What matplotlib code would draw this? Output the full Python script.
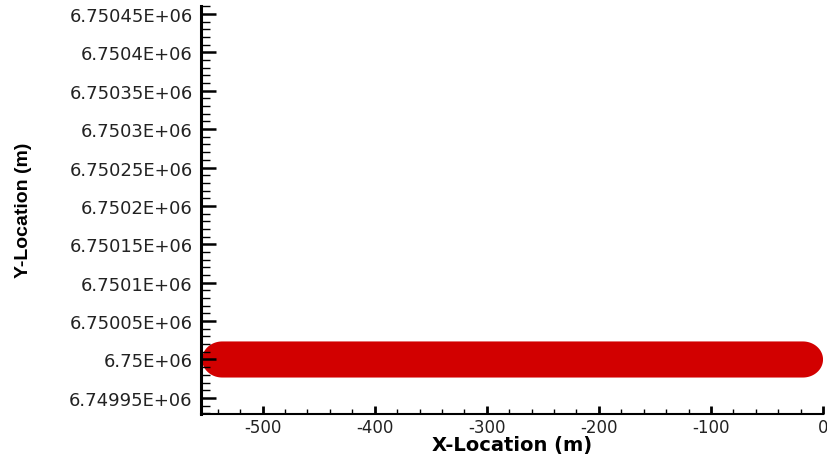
import numpy as np
import matplotlib
matplotlib.use('Agg')
import matplotlib.pyplot as plt
from matplotlib.ticker import MultipleLocator, FuncFormatter

# plume footprint (metres)
track_start = -554.0      # x of the left tip
track_end = 0.0           # x of the right tip
track_centre = 6.75e6     # y of the centre line
half_width = 23.5         # half thickness of the band
cap_length = 18.0         # how far the rounded ends reach

x_ticks = [-500, -400, -300, -200, -100, 0]
y_ticks = [6.74995e6, 6.75e6, 6.75005e6, 6.7501e6, 6.75015e6, 6.7502e6,
           6.75025e6, 6.7503e6, 6.75035e6, 6.7504e6, 6.75045e6]

plt.rcParams['font.family'] = ['DejaVu Sans']
plt.rcParams['axes.unicode_minus'] = False
plt.rcParams['xtick.direction'] = 'in'
plt.rcParams['ytick.direction'] = 'in'

fig = plt.figure(figsize=(8.28, 4.56), dpi=100)
ax = fig.add_axes([0.2427, 0.0899, 0.7513, 0.8958])

# outline of the band: straight sides plus two half ellipses
t = np.linspace(-np.pi / 2, np.pi / 2, 60)
x_right = track_end - cap_length + cap_length * np.cos(t)
y_right = track_centre + half_width * np.sin(t)
x_left = track_start + cap_length - cap_length * np.cos(t[::-1])
y_left = track_centre + half_width * np.sin(t[::-1])
ax.fill(np.r_[x_right, x_left], np.r_[y_right, y_left], color='#d20000', lw=0)

ax.set_xlim(-555, 0)
ax.set_ylim(6.749929e6, 6.750461e6)
ax.set_xticks(x_ticks)
ax.set_yticks(y_ticks)
ax.xaxis.set_minor_locator(MultipleLocator(20))
ax.yaxis.set_minor_locator(MultipleLocator(10))
ax.yaxis.set_major_formatter(FuncFormatter(lambda v, p: '%G' % v))

for s in ['top', 'right']:
    ax.spines[s].set_visible(False)
ax.spines['left'].set_linewidth(2.2)
ax.spines['bottom'].set_linewidth(1.5)

ax.tick_params(axis='y', which='major', direction='in', length=11, width=1.8,
               labelsize=13, pad=6, labelcolor='#222222')
ax.tick_params(axis='y', which='minor', direction='in', length=6.5, width=1.0)
ax.tick_params(axis='x', which='major', direction='in', length=6, width=2.0,
               labelsize=12, pad=3, labelcolor='#222222')
ax.tick_params(axis='x', which='minor', direction='in', length=3.5, width=1.0)

ax.set_xlabel('X-Location (m)', fontsize=14, fontweight='bold', labelpad=-1)
ax.set_ylabel('Y-Location (m)', fontsize=14, fontweight='bold',
              family='Liberation Sans')
ax.yaxis.set_label_coords(-0.272, 0.5)

fig.savefig('out.png', dpi=100)
